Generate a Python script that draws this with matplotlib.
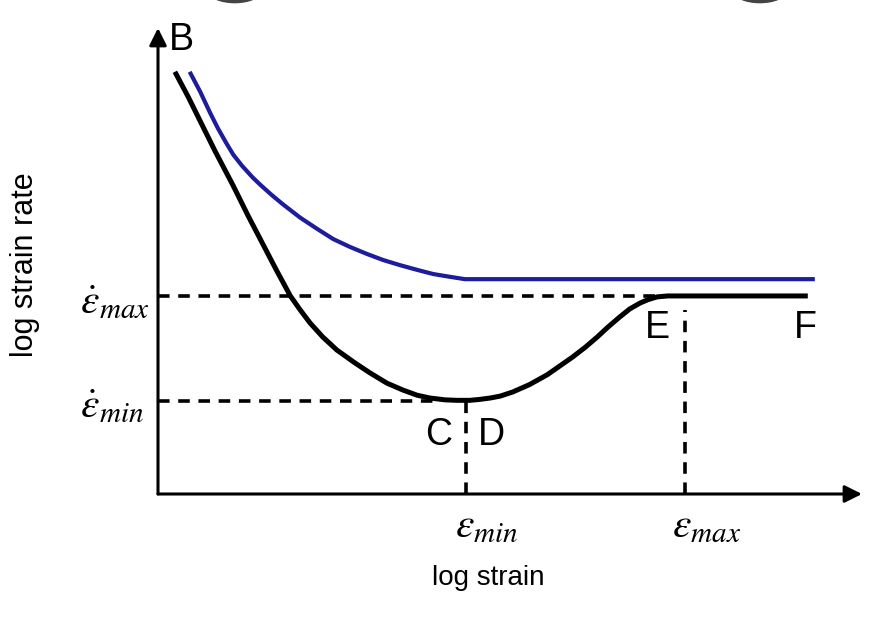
# Schematic: log strain rate vs log strain (creep-like curve with plateau)

import numpy as np
import matplotlib.pyplot as plt
from matplotlib.patches import Ellipse

plt.rcParams['font.family'] = ['Liberation Sans', 'DejaVu Sans']
plt.rcParams['mathtext.fontset'] = 'stix'

# black curve B -> C/D -> E -> F
black_x = [0.24, 0.43, 0.60, 0.81, 1.07, 1.28, 1.48, 1.68, 1.88, 2.02,
           2.16, 2.34, 2.54, 2.80, 3.01, 3.25, 3.48, 3.68, 3.86, 4.08,
           4.25, 4.43, 4.57, 4.72, 4.86, 5.04, 5.28, 5.53, 5.71, 5.89,
           6.07, 6.24, 6.39, 6.56, 6.70, 6.85, 6.96, 7.09, 7.24, 9.23]
black_y = [9.06, 8.52, 8.00, 7.36, 6.61, 5.97, 5.39, 4.81, 4.25, 3.95,
           3.67, 3.37, 3.09, 2.81, 2.60, 2.38, 2.23, 2.12, 2.06, 2.02,
           2.01, 2.01, 2.03, 2.06, 2.10, 2.19, 2.35, 2.56, 2.75, 2.94,
           3.15, 3.37, 3.58, 3.80, 3.97, 4.10, 4.17, 4.23, 4.25, 4.25]

# blue curve (monotonic decrease to plateau)
blue_x = [0.45, 0.60, 0.74, 0.85, 0.97, 1.07, 1.19, 1.34, 1.45, 1.62,
          1.78, 2.02, 2.26, 2.49, 2.73, 2.97, 3.20, 3.44, 3.68, 3.91,
          4.15, 4.36, 9.33]
blue_y = [9.06, 8.63, 8.18, 7.85, 7.53, 7.28, 7.05, 6.80, 6.64, 6.41,
          6.21, 5.93, 5.69, 5.47, 5.30, 5.15, 5.02, 4.91, 4.81, 4.72,
          4.66, 4.61, 4.61]

# reference levels
rate_max = 4.25
rate_min = 2.0
strain_min = 4.375
strain_max = 7.49
x_E = 7.09
x_C = 3.9

point_labels = ['B', 'C', 'D', 'E', 'F']
point_pos = [(0.34, 9.74), (3.98, 1.27), (4.74, 1.27), (7.09, 3.56), (9.2, 3.56)]

fig = plt.figure(figsize=(8.75, 6.22), dpi=100)
ax = fig.add_axes([158 / 875, 1 - 494 / 622, (862 - 158) / 875, (494 - 28) / 622])
ax.set_xlim(0, 10)
ax.set_ylim(0, 10)
ax.axis('off')

# axes with arrow heads
arrow = dict(arrowstyle='-|>', color='black', lw=2.2, mutation_scale=26, shrinkA=0, shrinkB=0)
ax.annotate('', xy=(1, 0), xytext=(0, 0), xycoords='axes fraction', arrowprops=arrow)
ax.annotate('', xy=(0, 1), xytext=(0, 0), xycoords='axes fraction', arrowprops=arrow)

# dashed guides
dash = dict(color='black', lw=2.6, dashes=(3.2, 2.4))
ax.plot([0, x_E], [rate_max, rate_max], **dash)
ax.plot([0, x_C], [rate_min, rate_min], **dash)
ax.plot([strain_min, strain_min], [0, rate_min], **dash)
ax.plot([strain_max, strain_max], [0, 3.95], **dash)

# curves
ax.plot(blue_x, blue_y, color='#1c1c9c', lw=3.0, solid_capstyle='butt', solid_joinstyle='round')
ax.plot(black_x, black_y, color='black', lw=3.6, solid_capstyle='butt', solid_joinstyle='round')

for lab, (px, py) in zip(point_labels, point_pos):
    ax.text(px, py, lab, fontsize=27, ha='center', va='center')

# epsilon labels
eps_kw = dict(fontsize=30, ha='left', va='baseline', clip_on=False)
ax.text(-1.11, 3.88, r'$\dot{\varepsilon}_{max}$', **eps_kw)
ax.text(-1.11, 1.65, r'$\dot{\varepsilon}_{min}$', **eps_kw)
ax.text(4.22, -0.92, r'$\varepsilon_{min}$', **eps_kw)
ax.text(7.30, -0.92, r'$\varepsilon_{max}$', **eps_kw)

fig.text(0.558, 0.071, 'log strain', fontsize=20, ha='center', va='center')
fig.text(0.029, 0.574, 'log strain rate', fontsize=22, ha='center', va='center', rotation=90)

# cropped fragments at the top edge
for cx in [1.09, 8.55]:
    ax.add_patch(Ellipse((cx, 10.78), 0.75, 0.5, facecolor='#444444', edgecolor='none', clip_on=False))

fig.savefig('out.png', dpi=100)
